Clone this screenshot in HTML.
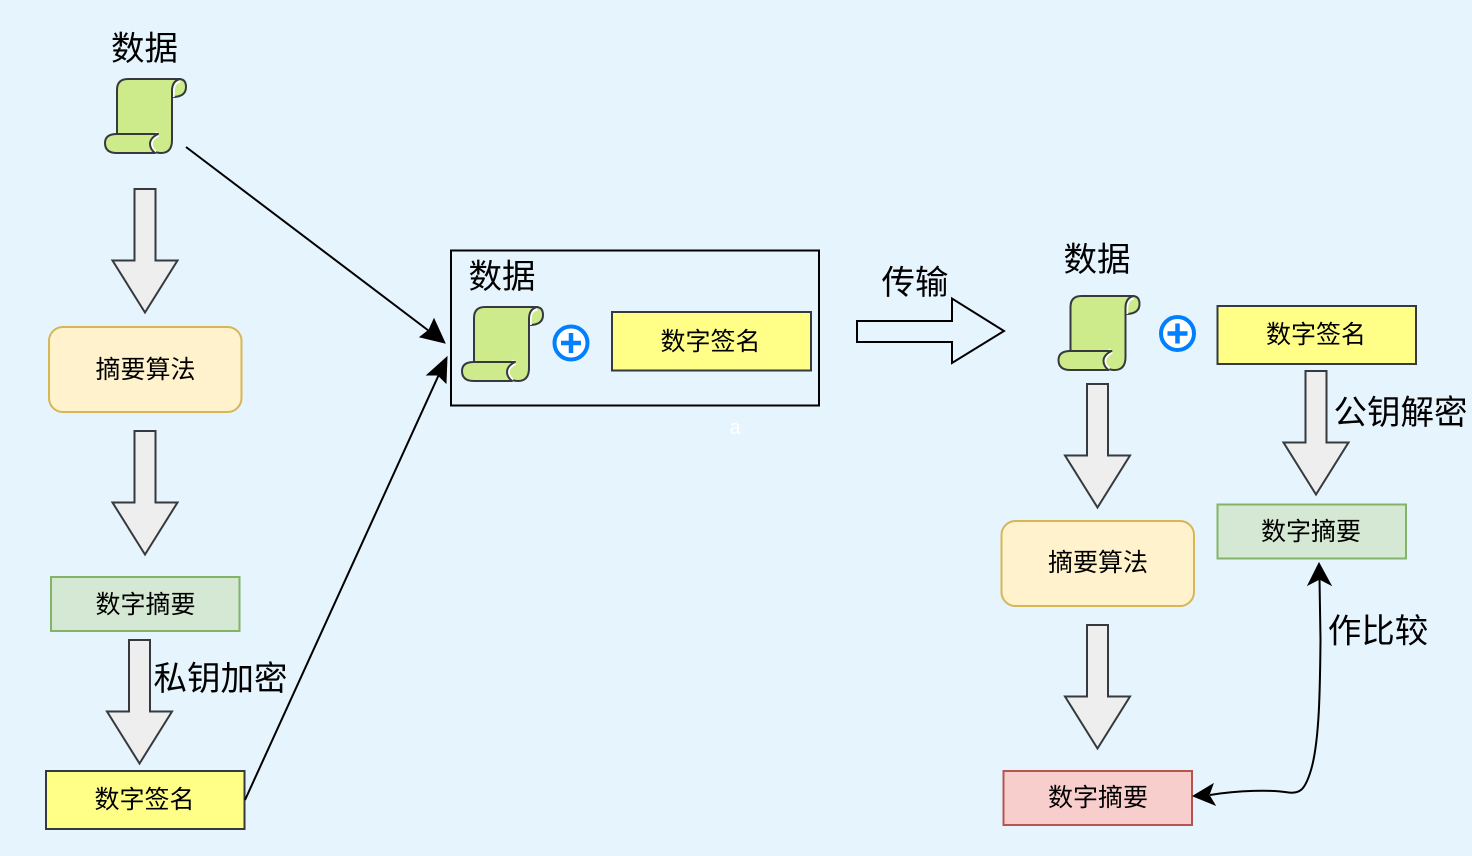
<!DOCTYPE html>
<html><head><meta charset="utf-8"><style>
html,body{margin:0;padding:0;background:#e6f4fd}
svg{display:block}
text{font-family:"Liberation Sans","Noto Sans CJK SC",sans-serif;fill:#000;text-anchor:middle}
.b{font-size:33.5px}.m{font-size:25px}
</style></head><body>
<svg width="1472" height="856" viewBox="0 0 1472 856" xmlns="http://www.w3.org/2000/svg">
<defs>
<g id="scroll" stroke-linejoin="round">
<path d="M74 1Q81 1 81 9Q81 19 67 19V12Q67 3 74 1Z" fill="#cdeb8b" stroke="#36393d" stroke-width="2"/>
<path d="M75 2Q67 3 67 13V19" fill="none" stroke="#fff" stroke-width="5.500"/>
<path d="M12 57V12Q12 1 23 1H75Q67 3 67 13V62Q67 75 56 75Q46 75 46 66Q46 59 52 56Z" fill="#cdeb8b" stroke="#36393d" stroke-width="2"/>
<path d="M53 56Q45 60 45 66Q45 71 50 75" fill="none" stroke="#fff" stroke-width="5.500"/>
<path d="M12 56H53Q45 60 45 66Q45 71 50 75H12Q0 75 0 65Q0 56 12 56Z" fill="#cdeb8b" stroke="#36393d" stroke-width="2"/>
</g>
<path id="down" d="M-10.500 0H10.500V71.500H32.500L0 123.500L-32.500 71.500H-10.500Z" fill="#eeeeee" stroke="#36393d" stroke-width="2" stroke-linejoin="miter"/>
<g id="plus">
<circle r="16.5" fill="#fff" stroke="#007fff" stroke-width="4"/>
<path d="M-10 0H10M0-10V10" stroke="#007fff" stroke-width="4.5" fill="none"/>
</g>
</defs>
<rect width="1472" height="856" fill="#e6f4fd"/>

<text class="b" x="144.500" y="60">数据</text>
<use href="#scroll" x="105" y="78"/>
<use href="#down" x="145" y="189"/>
<rect x="49" y="327" width="192.500" height="85" rx="14" fill="#fff2cc" stroke="#d6b656" stroke-width="2"/>
<text class="m" x="145.500" y="378">摘要算法</text>
<use href="#down" x="145" y="431"/>
<rect x="51" y="577" width="188.500" height="54" fill="#d5e8d4" stroke="#82b366" stroke-width="2"/>
<text class="m" x="145.500" y="613">数字摘要</text>
<use href="#down" x="139.500" y="640"/>
<text class="b" x="220.500" y="690">私钥加密</text>
<rect x="46" y="771" width="198.500" height="58" fill="#ffff88" stroke="#36393d" stroke-width="2"/>
<text class="m" x="144.500" y="808">数字签名</text>

<path d="M186 147L431 332.500" stroke="#000" stroke-width="2" fill="none"/>
<path d="M445 343L420 337L429 330L434 319Z" fill="#000" stroke="#000" stroke-width="1"/>
<path d="M245 800L441 370" stroke="#000" stroke-width="2" fill="none"/>
<path d="M447 357L446 383L438 375L427 375Z" fill="#000" stroke="#000" stroke-width="1"/>

<rect x="451" y="250.500" width="368" height="155" fill="none" stroke="#000" stroke-width="2"/>
<text class="b" x="502" y="288">数据</text>
<use href="#scroll" x="462" y="306"/>
<use href="#plus" x="571" y="343"/>
<rect x="612" y="312" width="199" height="58.500" fill="#ffff88" stroke="#36393d" stroke-width="2"/>
<text class="m" x="710.500" y="350">数字签名</text>
<text x="735" y="434" font-size="20" style="fill:#fff">a</text>

<path d="M857 321H952V298.500L1004 331L952 363V342H857Z" fill="#e6f4fd" stroke="#000" stroke-width="2"/>
<text class="b" x="915" y="294">传输</text>

<text class="b" x="1097" y="271">数据</text>
<use href="#scroll" x="1058.500" y="295"/>
<use href="#plus" x="1177.500" y="333.500"/>
<rect x="1217.500" y="306" width="198.500" height="58" fill="#ffff88" stroke="#36393d" stroke-width="2"/>
<text class="m" x="1316" y="343">数字签名</text>
<use href="#down" x="1097.500" y="384"/>
<use href="#down" x="1316" y="371"/>
<text class="b" x="1400.500" y="424">公钥解密</text>
<rect x="1217.500" y="504.500" width="188.500" height="54" fill="#d5e8d4" stroke="#82b366" stroke-width="2"/>
<text class="m" x="1311" y="540">数字摘要</text>
<rect x="1001.500" y="521" width="192.500" height="85" rx="14" fill="#fff2cc" stroke="#d6b656" stroke-width="2"/>
<text class="m" x="1098" y="571">摘要算法</text>
<use href="#down" x="1097.500" y="625"/>
<rect x="1003.500" y="771" width="188.500" height="54" fill="#f8cecc" stroke="#b85450" stroke-width="2"/>
<text class="m" x="1098" y="806">数字摘要</text>

<path d="M1210 795C1240 790 1270 790 1285 792C1300 795 1305 790 1311 770C1320 740 1320 680 1320.500 640L1319.500 578" fill="none" stroke="#000" stroke-width="2"/>
<path d="M1319 563L1331 585L1319.500 579L1308 585Z" fill="#000" stroke="#000" stroke-width="1"/>
<path d="M1193 796L1213 784L1209 795L1215 805Z" fill="#000" stroke="#000" stroke-width="1"/>
<text class="b" x="1378" y="642.500">作比较</text>
</svg>
</body></html>
